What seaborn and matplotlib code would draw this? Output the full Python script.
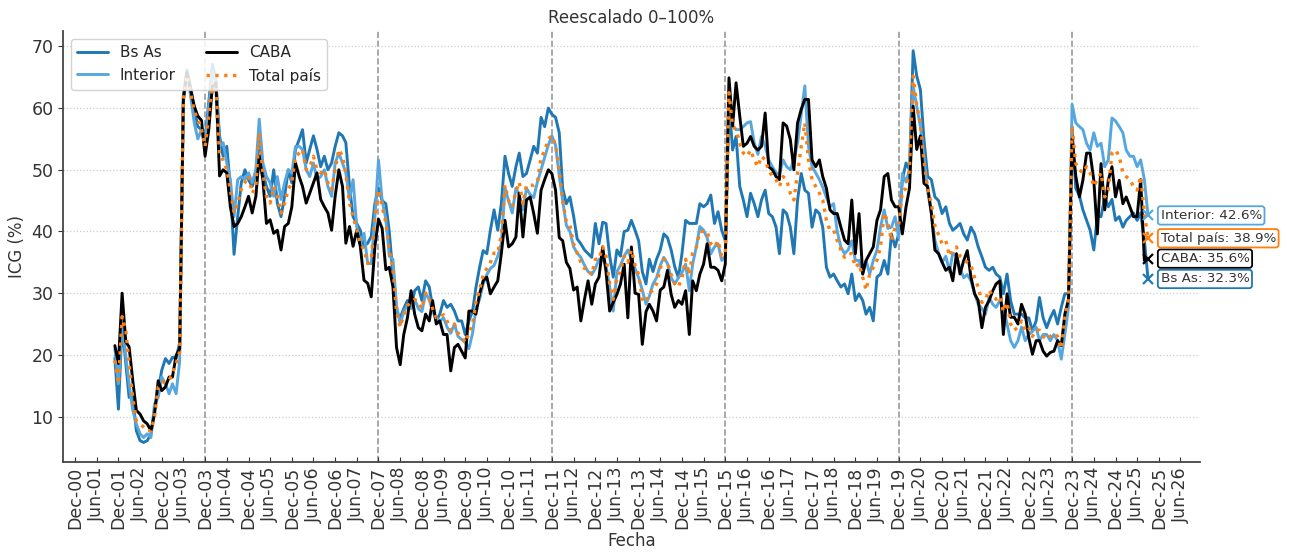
import pandas as pd
import matplotlib
matplotlib.use("Agg")
import matplotlib.pyplot as plt
import matplotlib.dates as mdates
import seaborn as sns

# ICG monthly series, Nov 2001 - Sep 2025 (rescaled 0-100%)
start_month = "2001-11-01"

bs_as = [
    19.5, 11.2,
    25.0, 18.6, 13.1, 13.1, 7.7, 6.1, 5.8, 6.1, 7.2, 11.0, 14.2, 17.5,
    19.4, 18.6, 19.6, 19.4, 22.0, 62.0, 66.2, 63.5, 59.9, 57.0, 56.5, 55.0,
    60.9, 67.1, 64.6, 55.5, 52.2, 53.8, 47.3, 36.3, 42.4, 47.9, 50.0, 48.4,
    47.3, 49.5, 55.5, 49.5, 47.3, 45.7, 50.0, 44.6, 42.4, 45.7, 50.0, 47.9,
    53.3, 54.9, 56.5, 51.1, 53.3, 55.5, 53.3, 50.5, 52.2, 50.0, 51.1, 53.8,
    56.0, 55.5, 54.4, 47.3, 42.4, 41.3, 40.2, 37.6, 38.1, 39.2, 44.6, 47.0,
    45.0, 44.5, 40.0, 33.0, 27.0, 26.0, 27.5, 28.8, 27.7, 30.4, 31.0, 28.8,
    32.0, 31.0, 27.7, 25.5, 26.6, 28.8, 27.7, 28.2, 27.1, 25.5, 25.5, 23.3,
    25.5, 27.1, 30.9, 34.2, 36.9, 36.4, 40.2, 43.5, 40.2, 44.5, 52.2, 49.4,
    47.3, 50.5, 52.7, 48.9, 49.4, 51.6, 53.8, 52.7, 58.5, 57.0, 60.0, 59.0,
    58.5, 56.0, 47.0, 44.5, 45.6, 42.5, 38.8, 38.0, 37.0, 36.4, 35.8, 41.3,
    38.0, 41.5, 41.3, 36.0, 32.6, 37.0, 36.0, 40.0, 40.2, 41.8, 40.2, 38.5,
    33.5, 31.5, 35.5, 33.5, 35.5, 37.0, 39.6, 39.0, 37.0, 34.3, 32.5, 36.4,
    41.8, 41.3, 41.3, 41.3, 44.5, 44.0, 44.5, 45.9, 41.3, 43.2, 40.2, 38.5,
    61.0, 53.2, 55.4, 47.3, 45.1, 42.4, 46.2, 44.5, 42.4, 45.1, 46.7, 42.9,
    42.4, 40.7, 36.4, 43.5, 42.9, 40.7, 36.4, 45.1, 49.4, 46.7, 46.2, 40.7,
    43.5, 42.9, 40.7, 34.2, 32.6, 33.1, 32.0, 31.0, 31.5, 29.9, 33.1, 28.8,
    29.9, 28.8, 26.6, 27.7, 25.5, 32.6, 33.1, 35.3, 33.1, 39.6, 37.5, 39.6,
    48.4, 51.1, 50.0, 69.3, 65.2, 63.0, 54.9, 48.9, 48.4, 45.6, 45.0, 42.9,
    44.0, 41.3, 40.2, 40.7, 41.3, 39.6, 38.6, 40.7, 39.6, 37.5, 35.9, 34.2,
    33.7, 34.2, 33.1, 32.6, 29.9, 33.1, 28.8, 26.6, 26.6, 26.6, 26.0, 26.0,
    23.9, 25.5, 29.3, 26.0, 24.4, 26.0, 27.2, 25.0, 27.7, 29.9, 29.9, 57.0,
    47.0, 45.8, 43.5, 41.8, 40.2, 37.0, 42.5, 42.4, 45.6, 44.0, 45.2, 41.8,
    42.4, 40.7, 41.8, 42.4, 43.0, 41.8, 43.0, 38.6, 32.3,
]

interior = [
    21.0, 15.3,
    25.5, 19.7, 15.3, 11.0, 8.8, 7.2, 6.6, 7.2, 6.6, 12.0, 13.1, 16.4,
    15.3, 13.7, 15.3, 13.7, 19.0, 61.0, 65.5, 62.0, 57.6, 55.0, 56.5, 53.8,
    60.3, 65.8, 64.1, 53.8, 54.4, 51.1, 48.4, 42.4, 48.4, 48.9, 48.4, 49.5,
    47.9, 50.0, 58.2, 51.1, 48.9, 47.9, 45.7, 48.9, 45.2, 47.9, 50.0, 49.5,
    53.8, 53.8, 53.3, 50.0, 48.9, 51.1, 48.4, 48.9, 50.0, 47.3, 45.7, 51.1,
    52.7, 51.1, 49.5, 45.2, 48.4, 40.8, 38.1, 39.7, 34.8, 34.8, 42.4, 51.6,
    45.0, 42.0, 36.0, 35.5, 28.0, 25.0, 27.0, 28.0, 27.5, 29.0, 27.5, 27.0,
    30.0, 29.0, 27.0, 26.0, 25.5, 26.0, 24.5, 23.5, 25.0, 23.0, 22.5, 22.0,
    21.0, 23.5, 27.5, 29.0, 31.5, 33.0, 34.0, 34.5, 36.0, 38.0, 47.0, 45.0,
    43.0, 47.0, 46.0, 43.5, 47.0, 46.0, 45.5, 48.0, 50.0, 52.0, 54.0, 55.5,
    54.0, 49.0, 45.0, 41.0, 40.0, 37.5, 36.5, 35.8, 34.5, 33.5, 33.0, 34.0,
    35.5, 35.5, 34.5, 31.0, 27.1, 33.5, 34.5, 36.0, 37.0, 35.5, 34.0, 32.5,
    30.5, 28.2, 29.5, 31.5, 32.5, 34.5, 35.8, 34.8, 32.5, 31.5, 32.5, 33.3,
    34.7, 30.4, 34.7, 37.5, 40.8, 40.2, 39.0, 36.4, 37.5, 38.0, 35.3, 36.0,
    60.0, 57.1, 56.5, 56.5, 57.0, 57.6, 57.8, 54.3, 52.5, 55.4, 53.8, 51.6,
    50.5, 49.5, 49.2, 51.6, 50.5, 50.0, 51.6, 54.3, 59.0, 63.6, 53.8, 50.5,
    49.5, 48.4, 47.2, 45.5, 44.0, 44.5, 40.0, 37.5, 36.4, 37.0, 38.5, 35.3,
    35.3, 33.1, 35.3, 33.1, 35.3, 37.0, 40.7, 43.5, 40.5, 40.7, 42.4, 39.0,
    49.4, 48.0, 50.0, 63.5, 60.3, 57.0, 52.0, 46.5, 43.0, 38.6, 36.5, 35.0,
    36.0, 33.5, 36.5, 36.0, 34.0, 32.5, 33.0, 32.0, 29.9, 28.2, 27.5, 26.6,
    29.3, 28.2, 27.7, 28.8, 27.7, 25.0, 22.3, 21.2, 22.3, 24.5, 22.3, 23.3,
    23.8, 24.5, 22.3, 23.3, 23.3, 22.3, 23.3, 22.3, 19.3, 23.3, 27.7, 60.6,
    57.6, 57.0, 56.5, 54.3, 53.2, 56.0, 53.8, 54.3, 50.5, 51.6, 58.4, 57.9,
    57.0, 56.0, 53.2, 52.2, 52.2, 50.5, 51.6, 48.4, 42.6,
]

caba = [
    21.5, 18.6,
    30.0, 22.1, 21.3, 15.8, 11.0, 10.4, 9.3, 8.8, 7.7, 10.4, 15.8, 14.2,
    14.8, 16.4, 16.4, 19.9, 21.0, 61.5, 65.8, 63.0, 60.3, 58.7, 58.0, 52.2,
    56.5, 63.6, 64.1, 49.0, 50.0, 49.5, 44.0, 40.8, 41.3, 42.4, 44.0, 45.7,
    43.0, 45.7, 52.2, 48.4, 41.3, 41.9, 39.7, 40.2, 37.0, 40.8, 41.3, 44.0,
    51.1, 48.9, 47.3, 44.6, 46.2, 47.9, 49.5, 45.2, 44.0, 43.0, 40.2, 45.7,
    50.0, 47.3, 38.1, 40.8, 37.6, 40.2, 37.6, 32.1, 31.6, 29.4, 37.6, 42.0,
    40.5, 33.8, 34.2, 31.0, 21.2, 18.4, 23.3, 26.0, 30.4, 26.6, 24.4, 23.9,
    26.6, 25.5, 28.8, 25.0, 25.5, 23.3, 23.3, 17.4, 21.2, 21.7, 20.6, 19.5,
    27.1, 27.1, 26.6, 29.9, 32.0, 32.6, 29.9, 31.0, 32.0, 36.4, 41.8, 37.5,
    38.0, 39.1, 46.2, 39.1, 45.1, 45.6, 42.9, 39.7, 46.7, 48.4, 50.0, 49.4,
    46.7, 39.0, 38.5, 35.0, 34.0, 30.5, 31.0, 25.5, 29.0, 32.0, 28.2, 31.5,
    32.6, 37.5, 33.5, 27.1, 28.5, 29.8, 31.5, 34.7, 26.0, 37.5, 30.0, 29.8,
    21.7, 27.0, 28.2, 27.1, 25.5, 30.5, 31.0, 33.7, 29.8, 27.7, 28.8, 28.2,
    30.4, 23.3, 32.0, 30.4, 33.1, 34.7, 38.0, 34.2, 34.2, 33.7, 32.0, 34.7,
    64.9, 57.1, 64.1, 58.7, 53.8, 54.3, 55.4, 53.8, 53.2, 53.8, 59.2, 50.5,
    50.0, 48.9, 48.4, 57.6, 57.1, 54.9, 50.0, 57.6, 59.8, 61.4, 61.4, 51.6,
    50.5, 51.6, 48.9, 47.0, 43.5, 42.9, 42.9, 40.7, 38.6, 38.0, 45.1, 36.4,
    42.9, 33.1, 35.3, 36.4, 37.5, 41.8, 43.5, 48.9, 49.4, 45.1, 44.0, 44.0,
    39.6, 44.0, 47.0, 60.3, 53.3, 55.5, 47.8, 47.3, 43.0, 37.0, 36.4, 35.0,
    33.7, 34.2, 32.0, 36.4, 33.1, 35.3, 36.9, 32.6, 29.9, 28.8, 24.4, 27.7,
    28.8, 30.4, 31.5, 32.0, 23.3, 29.9, 26.1, 26.1, 25.0, 28.2, 26.6, 22.8,
    20.1, 22.3, 22.3, 20.6, 19.8, 20.4, 20.6, 22.3, 21.5, 26.6, 29.0, 55.0,
    49.0, 45.6, 48.3, 52.7, 52.7, 48.3, 39.6, 51.0, 43.5, 48.3, 50.5, 45.6,
    48.3, 44.5, 45.6, 44.0, 42.4, 42.4, 48.4, 35.3, 35.6,
]

total = [
    19.1, 15.3,
    26.2, 24.0, 18.6, 13.1, 9.3, 8.8, 8.3, 7.7, 7.7, 9.9, 14.8, 15.3,
    15.9, 15.9, 17.0, 18.6, 20.5, 61.5, 65.3, 62.5, 59.5, 58.2, 56.5, 53.8,
    58.7, 64.1, 63.6, 52.2, 51.6, 50.0, 46.8, 43.0, 44.6, 46.8, 47.9, 49.0,
    46.2, 47.3, 56.0, 49.5, 45.7, 44.6, 47.3, 45.7, 43.0, 44.6, 46.8, 47.9,
    52.2, 52.7, 53.3, 50.0, 50.5, 52.2, 50.0, 49.5, 50.0, 47.9, 46.8, 50.0,
    53.3, 52.2, 49.5, 44.6, 42.4, 40.2, 38.1, 37.0, 34.8, 35.4, 42.4, 46.8,
    44.0, 41.5, 37.0, 34.0, 27.0, 24.5, 26.5, 28.0, 28.5, 29.0, 28.5, 27.5,
    30.0, 29.0, 27.5, 26.0, 26.0, 26.5, 25.5, 24.0, 25.0, 23.5, 23.0, 22.0,
    23.5, 25.0, 28.5, 30.5, 33.0, 34.0, 35.0, 36.5, 36.5, 39.5, 47.5, 45.0,
    44.0, 46.5, 48.0, 44.5, 47.5, 47.5, 47.5, 48.0, 52.0, 53.0, 55.0, 55.5,
    54.0, 50.0, 45.0, 41.5, 41.0, 38.0, 36.5, 35.0, 34.0, 34.0, 33.0, 35.5,
    35.5, 37.5, 36.0, 31.5, 29.0, 32.5, 33.5, 36.0, 35.0, 37.0, 34.5, 33.0,
    29.0, 28.5, 30.0, 30.5, 31.5, 34.0, 35.5, 35.0, 33.0, 31.5, 31.0, 32.5,
    35.5, 33.0, 36.5, 37.5, 40.0, 40.0, 40.0, 38.0, 37.5, 38.5, 36.0, 36.5,
    62.5, 57.1, 56.5, 54.3, 52.7, 52.2, 53.2, 51.6, 50.5, 52.2, 51.6, 49.9,
    48.9, 48.4, 47.3, 48.9, 48.4, 46.2, 45.1, 49.4, 53.8, 57.6, 51.6, 48.4,
    47.3, 46.2, 45.1, 41.8, 40.2, 40.2, 38.5, 37.0, 35.8, 36.4, 36.4, 34.2,
    34.8, 32.6, 30.5, 33.1, 34.2, 35.3, 37.5, 43.0, 41.5, 38.5, 40.7, 41.0,
    46.5, 47.0, 50.0, 65.2, 60.5, 57.5, 51.5, 47.0, 44.5, 41.0, 39.5, 38.0,
    38.5, 36.0, 37.0, 37.5, 36.0, 35.5, 35.0, 34.5, 32.5, 31.0, 28.5, 29.0,
    30.5, 29.5, 29.0, 29.5, 27.0, 28.5, 25.0, 24.0, 24.5, 25.5, 24.0, 24.5,
    23.0, 24.0, 24.0, 23.0, 22.5, 23.0, 23.5, 23.0, 21.0, 26.0, 29.0, 57.0,
    51.0, 50.0, 49.5, 50.5, 49.5, 47.3, 48.4, 49.5, 45.6, 46.7, 52.7, 53.2,
    52.2, 49.5, 48.9, 48.4, 47.3, 46.7, 48.9, 43.0, 38.9,
]

# government changes (dashed lines)
cambios = ["2003-12-01", "2007-12-01", "2011-12-01", "2015-12-01", "2019-12-01", "2023-12-01"]

series_names = ["Bs As", "Interior", "CABA", "Total país"]
colors = ["#1f77b4", "#56a6e0", "#000000", "#ff7f0e"]
styles = ["-", "-", "-", ":"]

dates = pd.date_range(start_month, periods=len(caba), freq="MS")
df = pd.DataFrame({
    "Fecha": dates,
    "Bs As": bs_as,
    "Interior": interior,
    "CABA": caba,
    "Total país": total,
})

sns.set_style("ticks")
plt.rcParams["font.family"] = ["DejaVu Sans"]

fig, ax = plt.subplots(figsize=(12.9, 5.56), dpi=100)
fig.subplots_adjust(left=0.049, right=0.930, bottom=0.169, top=0.944)

for name, color, ls in zip(series_names, colors, styles):
    lw = 2.4 if ls == ":" else 2.1
    sns.lineplot(data=df, x="Fecha", y=name, ax=ax, color=color,
                 linestyle=ls, linewidth=lw, label=name)

for d in cambios:
    ax.axvline(pd.Timestamp(d), color="#999999", linestyle="--", linewidth=1.2, zorder=0)

# last value markers + boxed labels
last = df.iloc[-1]
for name, color in zip(series_names, colors):
    ax.plot(last["Fecha"], last[name], marker="x", color=color, markersize=7, mew=1.6)
    ax.annotate(f"{name}: {last[name]:.1f}%", xy=(last["Fecha"], last[name]),
                xytext=(9, 0), textcoords="offset points", va="center", ha="left",
                fontsize=9.7, color="#333333",
                bbox=dict(boxstyle="round,pad=0.2", fc="white", ec=color, lw=1.3))

ax.xaxis.set_major_locator(mdates.MonthLocator(bymonth=[6, 12]))
ax.xaxis.set_major_formatter(mdates.DateFormatter("%b-%y"))
plt.setp(ax.get_xticklabels(), rotation=90)
ax.tick_params(axis="x", direction="in", labelsize=12.5, colors="#333333")
ax.tick_params(axis="y", direction="out", labelsize=12.5, colors="#333333")

ax.grid(axis="y", linestyle=":", color="#cccccc", linewidth=0.9)
ax.set_title("Reescalado 0–100%", fontsize=12, color="#333333")
ax.set_xlabel("Fecha", fontsize=12, color="#333333", labelpad=2)
ax.set_ylabel("ICG (%)", fontsize=12, color="#333333")

sns.despine(ax=ax)
for s in ["left", "bottom"]:
    ax.spines[s].set_color("#444444")
    ax.spines[s].set_linewidth(1.3)

ax.legend(loc="upper left", ncol=2, fontsize=11, frameon=True,
          framealpha=0.85, edgecolor="#cccccc")

fig.savefig("out.png", dpi=100)
